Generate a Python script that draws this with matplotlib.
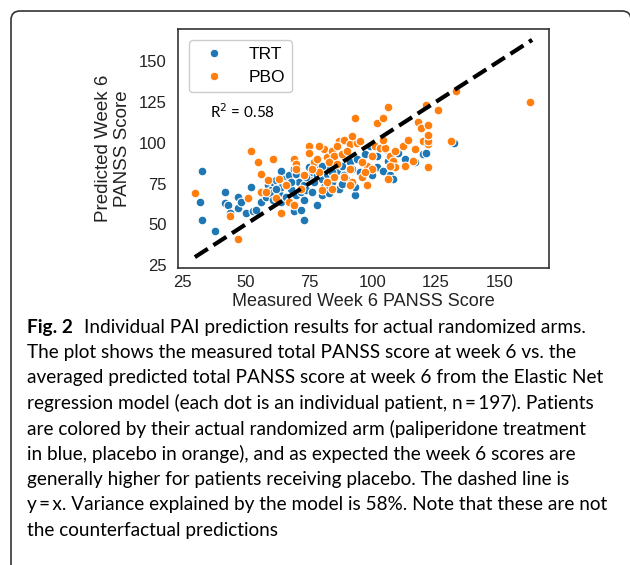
import matplotlib
matplotlib.use("Agg")
import matplotlib.pyplot as plt
from matplotlib.patches import FancyBboxPatch
from matplotlib.lines import Line2D

plt.rcParams["font.family"] = ["Liberation Sans", "DejaVu Sans"]

# measured vs predicted week 6 PANSS
trt_points = [
    (33, 83), (32, 64), (33, 53), (38, 46), (42, 70), (42, 63), (43, 62),
    (44, 57), (47, 67), (47, 60), (48, 64), (50, 57), (52, 73), (53, 58),
    (56, 69), (56, 64), (54, 59), (58, 67), (59, 74), (60, 71), (60, 69),
    (61, 76), (61, 65), (62, 77), (63, 69), (64, 73), (64, 83), (64, 64),
    (65, 78), (66, 67), (67, 80), (66, 75), (68, 72), (69, 58), (69, 84),
    (70, 81), (70, 68), (71, 76), (72, 70), (72, 59), (73, 65), (73, 53),
    (73, 74), (74, 71), (75, 85), (75, 78), (76, 82), (77, 76), (78, 62),
    (78, 80), (79, 84), (80, 68), (80, 78), (81, 73), (82, 81), (83, 69),
    (83, 85), (84, 76), (85, 90), (85, 79), (86, 83), (87, 72), (88, 86),
    (89, 80), (90, 77), (91, 88), (92, 84), (93, 68), (93, 73), (94, 90),
    (95, 82), (97, 93), (98, 86), (100, 80), (99, 98), (102, 92), (102, 85),
    (104, 83), (106, 89), (107, 80), (105, 96), (108, 78), (110, 94),
    (113, 90), (117, 88), (120, 93), (121, 94), (132, 100), (74, 79),
    (62, 72), (68, 76), (76, 70), (80, 86), (84, 82), (88, 75),
]
pbo_points = [
    (30, 69), (47, 41), (44, 55), (52, 95), (55, 88), (56, 81), (56, 70),
    (51, 66), (59, 77), (61, 90), (64, 57), (67, 64), (69, 90), (70, 87),
    (73, 80), (75, 98), (75, 94), (77, 88), (78, 90), (81, 96), (82, 91),
    (84, 95), (85, 92), (83, 88), (87, 101), (89, 102), (91, 99), (94, 100),
    (95, 101), (85, 79), (84, 72), (91, 84), (92, 76), (91, 74), (93, 115),
    (102, 112), (104, 115), (106, 122), (98, 74), (96, 79), (98, 86),
    (100, 84), (100, 92), (101, 98), (103, 97), (105, 97), (104, 102),
    (107, 92), (108, 89), (109, 95), (109, 85), (107, 86), (106, 78),
    (112, 98), (113, 86), (114, 102), (116, 89), (117, 96), (118, 113),
    (119, 109), (120, 101), (122, 99), (122, 101), (122, 105), (122, 111),
    (121, 123), (122, 85), (126, 120), (131, 101), (133, 132), (162, 125),
    (89, 79), (89, 92), (79, 82), (66, 74), (70, 84), (62, 66), (80, 71),
    (76, 84), (86, 87), (88, 93), (96, 88), (97, 82), (86, 98), (90, 95),
    (79, 98), (92, 104), (63, 78), (58, 70), (69, 62), (72, 72), (82, 76),
]
identity = [30, 163]
ticks = [25, 50, 75, 100, 125, 150]
groups = ["TRT", "PBO"]
colors = ["#1f77b4", "#ff7f0e"]

caption_lines = [
    "The plot shows the measured total PANSS score at week 6 vs. the",
    "averaged predicted total PANSS score at week 6 from the Elastic Net",
    "regression model (each dot is an individual patient, n\u2009=\u2009197). Patients",
    "are colored by their actual randomized arm (paliperidone treatment",
    "in blue, placebo in orange), and as expected the week 6 scores are",
    "generally higher for patients receiving placebo. The dashed line is",
    "y\u2009=\u2009x. Variance explained by the model is 58%. Note that these are not",
    "the counterfactual predictions",
]

W, H = 630, 565
fig = plt.figure(figsize=(W / 100, H / 100), dpi=100)
ax = fig.add_axes([178 / W, 1 - 268 / H, 371 / W, 239 / H])

for pts, lab, c in zip([trt_points, pbo_points], groups, colors):
    xs = [p[0] for p in pts]
    ys = [p[1] for p in pts]
    ax.scatter(xs, ys, s=40, color=c, edgecolor="white", linewidth=0.8,
               label=lab, zorder=2)

ax.plot(identity, identity, ls="--", color="black", lw=3, zorder=3)

ax.set_xlim(23.35, 169.65)
ax.set_ylim(23.35, 169.65)
ax.set_xticks(ticks)
ax.set_yticks(ticks)
ax.tick_params(axis="both", length=0, labelsize=12,
               labelcolor="#222222")
ax.tick_params(axis="x", pad=5)
ax.tick_params(axis="y", pad=8)
for sp in ax.spines.values():
    sp.set_color("#333333")
    sp.set_linewidth(1.2)

ax.set_xlabel("Measured Week 6 PANSS Score", fontsize=13, labelpad=2,
              color="#222222")
ax.set_ylabel("Predicted Week 6\nPANSS Score", fontsize=13.5, labelpad=6,
              color="#222222", linespacing=1.1)

handles = [Line2D([], [], ls="", marker="o", ms=6, color=c,
                  markeredgecolor="white", markeredgewidth=0.6)
           for c in colors]
ax.legend(handles, groups, loc="upper left", fontsize=12.5,
          handletextpad=1.0, borderaxespad=0.65, labelspacing=0.45,
          edgecolor="#cccccc", framealpha=1)

ax.text(0.086, 0.653, "R$^2$ = 0.58", transform=ax.transAxes,
        fontsize=11, family="Lato", va="center", ha="left")

# rounded frame around figure + caption
frame = FancyBboxPatch((0.11, -0.5), 6.2, 6.04,
                       boxstyle="round,pad=0,rounding_size=0.09",
                       transform=fig.dpi_scale_trans, facecolor="none",
                       edgecolor="#333333", linewidth=1.2)
fig.add_artist(frame)

# caption
y0 = 327
step = 25.4
cap_size = 13.7
t1 = fig.text(27 / W, 1 - y0 / H, "Fig. 2", family="Lato", weight="bold",
              fontsize=cap_size, va="center", ha="left")
ax.annotate("Individual PAI prediction results for actual randomized arms.",
            xy=(1, 0.5), xycoords=t1, xytext=(8, 0),
            textcoords="offset points", va="center", ha="left",
            family="Lato", fontsize=cap_size, annotation_clip=False)
for i, line in enumerate(caption_lines):
    fig.text(27 / W, 1 - (y0 + step * (i + 1)) / H, line, family="Lato",
             fontsize=cap_size, va="center", ha="left")

fig.savefig("out.png", dpi=100)
